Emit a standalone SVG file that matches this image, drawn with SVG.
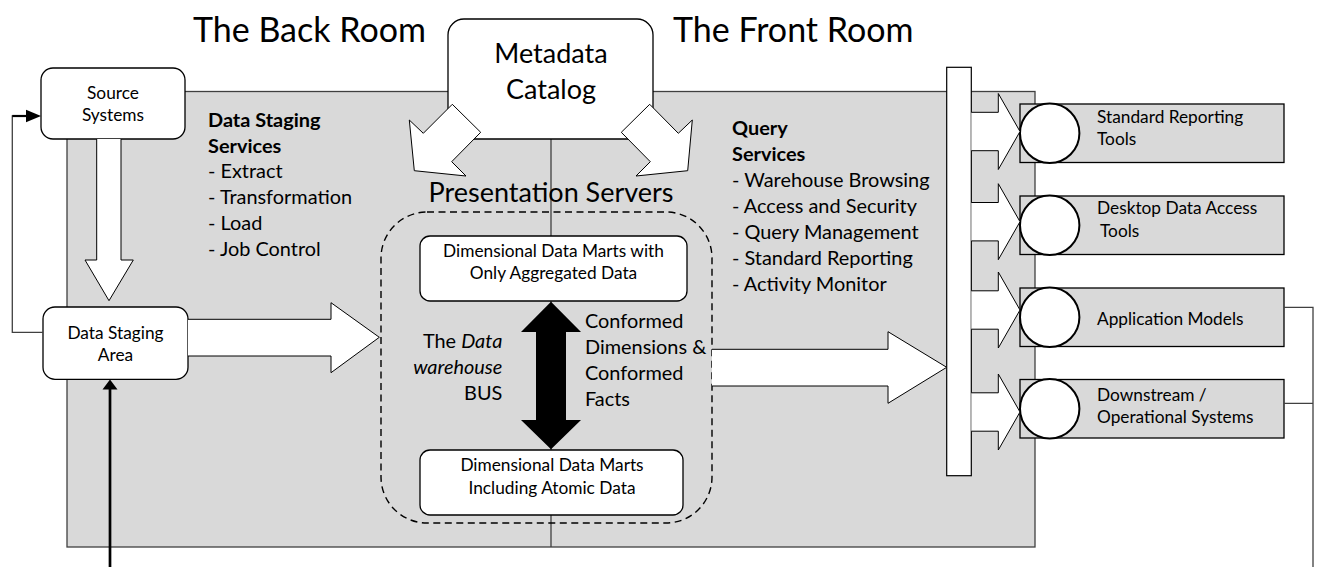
<svg xmlns="http://www.w3.org/2000/svg" width="1317" height="567" viewBox="0 0 1317 567">
  <defs>
    <style>
      text { font-family: Lato, "Liberation Sans", sans-serif; fill: #000; }
      .title { font-size: 34px; }
      .big { font-size: 27px; }
      .mid { font-size: 19.9px; }
      .sm { font-size: 17.3px; }
      .b { font-weight: bold; }
      .c { text-anchor: middle; }
      .r { text-anchor: end; }
      .box { fill: #fff; stroke: #000; stroke-width: 1.3; }
      .panel { fill: #d9d9d9; stroke: #404040; stroke-width: 1.3; }
      .tool { fill: #d9d9d9; stroke: #000; stroke-width: 1.3; }
      .blk { fill: #fff; stroke: #000; stroke-width: 1; stroke-linejoin: miter; }
      .ln { fill: none; stroke: #404040; stroke-width: 1.3; }
      .dot { fill: #fff; stroke: #000; stroke-width: 2; }
    </style>
    <!-- short block arrow from the bus bar to a tool -->
    <path id="tap" d="M0,-19.2 H27 V-38 L48.7,0 L27,38 V19.2 H0"/>
  </defs>

  <!-- headings -->
  <text class="title" x="193" y="42.3">The Back Room</text>
  <text class="title" x="673" y="42.3">The Front Room</text>

  <!-- warehouse area -->
  <rect id="warehouse" class="panel" x="67" y="91.5" width="968" height="455.5"/>

  <!-- metadata spine (runs behind the data mart boxes) -->
  <path class="ln" d="M551,139 V547"/>

  <!-- back room services -->
  <g id="staging-services">
    <text class="mid b" x="208" y="126.7">Data Staging</text>
    <text class="mid b" x="208" y="152.5">Services</text>
    <text class="mid" x="208" y="178.3">- Extract</text>
    <text class="mid" x="208" y="204.1">- Transformation</text>
    <text class="mid" x="208" y="229.9">- Load</text>
    <text class="mid" x="208" y="255.7">- Job Control</text>
  </g>

  <!-- front room services -->
  <g id="query-services">
    <text class="mid b" x="732" y="134.5">Query</text>
    <text class="mid b" x="732" y="160.5">Services</text>
    <text class="mid" x="732" y="186.5">- Warehouse Browsing</text>
    <text class="mid" x="732" y="212.5">- Access and Security</text>
    <text class="mid" x="732" y="238.5">- Query Management</text>
    <text class="mid" x="732" y="264.5">- Standard Reporting</text>
    <text class="mid" x="732" y="290.5">- Activity Monitor</text>
  </g>

  <!-- presentation servers -->
  <g id="presentation-servers">
    <text class="big c" x="551" y="201.7">Presentation Servers</text>
    <rect x="381" y="212" width="331" height="311" rx="46" fill="none" stroke="#000" stroke-width="1.4" stroke-dasharray="7,4.5"/>
  </g>

  <g id="aggregated-marts">
    <rect class="box" x="420" y="236" width="267" height="65" rx="10"/>
    <text class="sm c" x="553.5" y="256.7">Dimensional Data Marts with</text>
    <text class="sm c" x="553.5" y="279.3">Only Aggregated Data</text>
  </g>

  <g id="atomic-marts">
    <rect class="box" x="420" y="450" width="263" height="65" rx="10"/>
    <text class="sm c" x="552" y="470.7">Dimensional Data Marts</text>
    <text class="sm c" x="552" y="494">Including Atomic Data</text>
  </g>

  <g id="bus">
    <path d="M551,301.7 L581,332 H566 V420 H581 L551,449.3 L521,420 H536 V332 H521 Z" fill="#000"/>
    <text class="mid r" x="502.3" y="348.3">The <tspan font-style="italic">Data</tspan></text>
    <text class="mid r" x="502.3" y="374" font-style="italic">warehouse</text>
    <text class="mid r" x="502.3" y="400">BUS</text>
    <text class="mid" x="585" y="328.3">Conformed</text>
    <text class="mid" x="585" y="354.3">Dimensions &amp;</text>
    <text class="mid" x="585" y="380.3">Conformed</text>
    <text class="mid" x="585" y="406.3">Facts</text>
  </g>

  <g id="source-systems">
    <rect class="box" x="41" y="68" width="144" height="71" rx="12"/>
    <text class="sm c" x="113" y="99">Source</text>
    <text class="sm c" x="113" y="121.3">Systems</text>
  </g>

  <g id="staging-area">
    <rect class="box" x="43" y="307" width="145" height="72.3" rx="12"/>
    <text class="sm c" x="115.5" y="338.7">Data Staging</text>
    <text class="sm c" x="115.5" y="360.7">Area</text>
  </g>

  <g id="metadata-catalog">
    <rect class="box" x="448" y="19" width="205" height="120" rx="16"/>
    <text class="big c" x="551" y="63.3">Metadata</text>
    <text class="big c" x="551" y="99.3">Catalog</text>
  </g>

  <g id="bus-bar">
    <rect x="946.7" y="67.3" width="24.6" height="408.4" fill="#fff" stroke="#000" stroke-width="1.2"/>
  </g>

  <g id="standard-reporting">
    <rect class="tool" x="1020" y="104" width="264" height="58.5"/>
    <circle class="dot" cx="1049.7" cy="133.3" r="29.7"/>
    <text class="sm" x="1097" y="122.7">Standard Reporting</text>
    <text class="sm" x="1097" y="145">Tools</text>
  </g>

  <g id="desktop-access">
    <rect class="tool" x="1020" y="196" width="264" height="58.5"/>
    <circle class="dot" cx="1049.7" cy="225.3" r="29.7"/>
    <text class="sm" x="1097" y="214.3">Desktop Data Access</text>
    <text class="sm" x="1100" y="237.3">Tools</text>
  </g>

  <g id="application-models">
    <rect class="tool" x="1020" y="288" width="264" height="58.5"/>
    <circle class="dot" cx="1049.7" cy="317.3" r="29.7"/>
    <text class="sm" x="1097" y="325">Application Models</text>
  </g>

  <g id="downstream-systems">
    <rect class="tool" x="1020" y="379.5" width="264" height="58.5"/>
    <circle class="dot" cx="1049.7" cy="408.8" r="29.7"/>
    <text class="sm" x="1097" y="401">Downstream /</text>
    <text class="sm" x="1097" y="422.7">Operational Systems</text>
  </g>

  <g id="connectors">
    <!-- feedback loops -->
    <path class="ln" d="M43,332.3 H12.3 V116 H26" stroke="#000"/>
    <path d="M12.3,116 H27" stroke="#000" stroke-width="2.2"/>
    <polygon points="41,116 26,109.7 26,122.3" fill="#000"/>
    <path class="ln" d="M1284,307.3 H1313 V567 M1284,403.3 H1313"/>
    <path d="M110,567 V388" stroke="#000" stroke-width="2.7"/>
    <polygon points="110,379.5 102.5,389.5 117.5,389.5" fill="#000"/>

    <!-- extract flow -->
    <path class="blk" d="M96.7,139 V260 H85 L109,300.7 L133.3,260 H121 V139"/>
    <!-- load flow -->
    <path class="blk" d="M188,319.3 H331 V302.7 L379.3,337.3 L331,372.7 V356 H188"/>
    <!-- delivery to the bus bar -->
    <path class="blk" d="M712,349.3 H888 V331.7 L946.7,367.3 L888,403.3 V386 H712"/>

    <!-- metadata feeds -->
    <polygon class="blk" points="409.3,120 423.3,133.3 452.3,104.3 480.7,132.3 451.7,161.7 466,176 414.3,170.7"/>
    <polygon class="blk" points="692.3,120 678.3,133.3 649.7,104.3 621.3,132.3 650.3,161.7 636,176 687.7,170.7"/>

    <!-- bar to tools -->
    <use href="#tap" class="blk" x="971.3" y="131.5"/>
    <use href="#tap" class="blk" x="971.3" y="221.7"/>
    <use href="#tap" class="blk" x="971.3" y="310"/>
    <use href="#tap" class="blk" x="971.3" y="412"/>
  </g>
</svg>
